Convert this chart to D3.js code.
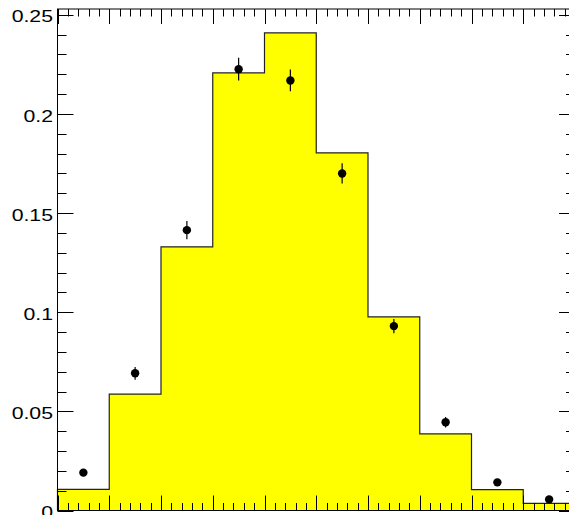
<!DOCTYPE html>
<html>
<head>
<meta charset="utf-8">
<script src="https://cdn.jsdelivr.net/npm/d3@7"></script>
<style>
  html, body { margin: 0; padding: 0; background: #fff; }
  svg { display: block; }
</style>
</head>
<body>
<svg id="chart" width="569" height="515"></svg>
<script>
// Bin edges (bin index along x)
const binEdges = [0, 1, 2, 3, 4, 5, 6, 7, 8, 9, 10];
// Filled histogram contents per bin
const histValues = [0.0107, 0.0587, 0.1330, 0.2207, 0.2409, 0.1804, 0.0977, 0.0386, 0.0105, 0.0036];
// Data points (bin centres) and their vertical errors
const pointValues = [0.0191, 0.0692, 0.1414, 0.2226, 0.2169, 0.1700, 0.0930, 0.0445, 0.0142, 0.0056];
const pointErrors = [0.0017, 0.0032, 0.0046, 0.0057, 0.0055, 0.0051, 0.0036, 0.0026, 0.0014, 0.0009];
// Y axis labelled ticks
const yTickValues = [0, 0.05, 0.1, 0.15, 0.2, 0.25];
const yTickLabels = ["0", "0.05", "0.1", "0.15", "0.2", "0.25"];

const frame = { left: 57.5, right: 575, top: 9, bottom: 510.5 };
const svg = d3.select("#chart");

const x = d3.scaleLinear().domain([binEdges[0], binEdges[binEdges.length - 1]])
  .range([frame.left, frame.right]);
const yMax = 1.05 * d3.max(histValues);
const y = d3.scaleLinear().domain([0, yMax]).range([frame.bottom, frame.top]);

// Histogram as a filled step shape
const bins = histValues.map((v, i) => ({ x0: binEdges[i], x1: binEdges[i + 1], v }));
const stepPts = [[x(binEdges[0]), y(0)]];
bins.forEach(b => { stepPts.push([x(b.x0), y(b.v)]); stepPts.push([x(b.x1), y(b.v)]); });
stepPts.push([x(binEdges[binEdges.length - 1]), y(0)]);

const g = svg.append("g");
g.append("path")
  .attr("d", d3.line()(stepPts))
  .attr("fill", "#ffff00")
  .attr("stroke", "#222")
  .attr("stroke-width", 1.2);

// Axis ticks on all four sides, ROOT style (inward)
const xMinor = d3.range(0, 10.0001, 0.2).map(v => +v.toFixed(4));
const yMinor = d3.range(0, yMax, 0.01).map(v => +v.toFixed(4));
const isMajorX = v => Math.abs(v - Math.round(v)) < 1e-6;
const isMajorY = v => yTickValues.some(t => Math.abs(t - v) < 1e-6);

const ticks = svg.append("g").attr("stroke", "#000").attr("stroke-width", 1);
xMinor.forEach(v => {
  const px = Math.round(x(v)) + 0.5;
  const len = isMajorX(v) ? 15 : 7.5;
  ticks.append("line").attr("x1", px).attr("x2", px)
    .attr("y1", frame.bottom).attr("y2", frame.bottom - len);
  ticks.append("line").attr("x1", px).attr("x2", px)
    .attr("y1", frame.top).attr("y2", frame.top + len);
});
yMinor.forEach(v => {
  const py = Math.round(y(v)) + 0.5;
  const len = isMajorY(v) ? 16 : 9;
  ticks.append("line").attr("x1", frame.left).attr("x2", frame.left + len)
    .attr("y1", py).attr("y2", py);
  ticks.append("line").attr("x1", frame.right).attr("x2", frame.right - len)
    .attr("y1", py).attr("y2", py);
});

// Frame
svg.append("rect")
  .attr("x", frame.left).attr("y", frame.top)
  .attr("width", frame.right - frame.left).attr("height", frame.bottom - frame.top)
  .attr("fill", "none").attr("stroke", "#000").attr("stroke-width", 1);

// Y labels
svg.append("g").selectAll("text")
  .data(yTickValues)
  .join("text")
  .attr("transform", d => `translate(53,${y(d) + 7.6}) scale(1.25,1)`)
  .attr("text-anchor", "end")
  .attr("font-family", "'Liberation Sans', Arial, sans-serif")
  .attr("font-size", 17)
  .attr("fill", "#000")
  .text((d, i) => yTickLabels[i]);

// Data points with vertical error bars
const centers = bins.map(b => (b.x0 + b.x1) / 2);
const pts = svg.append("g");
pointValues.forEach((v, i) => {
  pts.append("line")
    .attr("x1", x(centers[i])).attr("x2", x(centers[i]))
    .attr("y1", y(v - pointErrors[i])).attr("y2", y(v + pointErrors[i]))
    .attr("stroke", "#000").attr("stroke-width", 1.2);
  pts.append("circle")
    .attr("cx", x(centers[i])).attr("cy", y(v)).attr("r", 4.2)
    .attr("fill", "#000");
});
</script>
</body>
</html>
